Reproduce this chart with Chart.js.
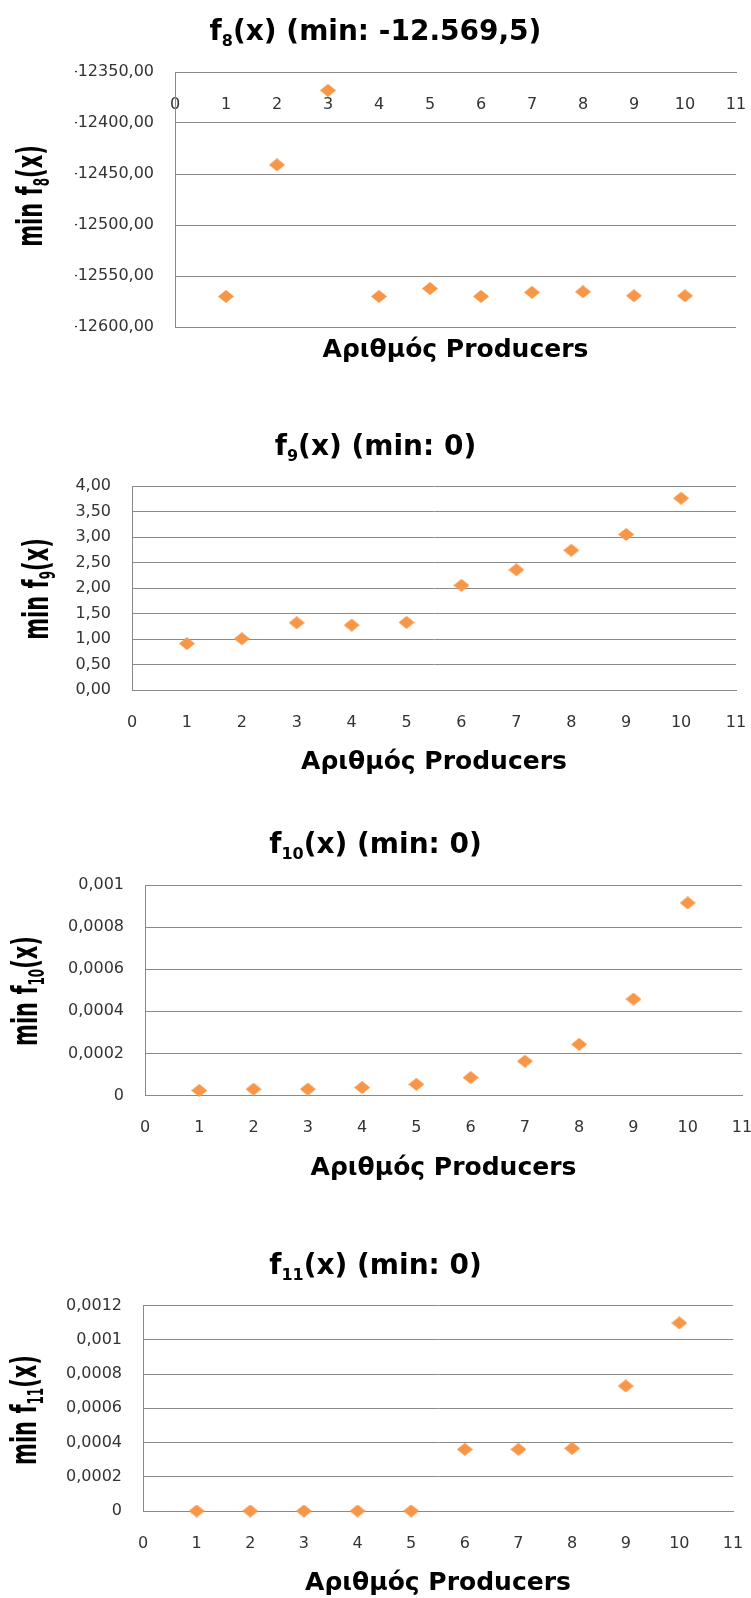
<!DOCTYPE html>
<html>
<head>
<meta charset="utf-8">
<script src="https://cdn.jsdelivr.net/npm/chart.js@4.4.1/dist/chart.umd.min.js"></script>
<style>
  html, body { margin: 0; padding: 0; background: #fff; }
  body { width: 751px; height: 1598px; position: relative; overflow: hidden; }
  .box { position: absolute; left: 0; width: 751px; }
</style>
</head>
<body>
<div class="box" style="top:0;height:410px"><canvas id="c8"></canvas></div>
<div class="box" style="top:410px;height:400px"><canvas id="c9"></canvas></div>
<div class="box" style="top:810px;height:405px"><canvas id="c10"></canvas></div>
<div class="box" style="top:1215px;height:383px"><canvas id="c11"></canvas></div>
<script>
// values
const producers = [1, 2, 3, 4, 5, 6, 7, 8, 9, 10];
const f8Min = [-12570, -12441, -12368, -12570, -12562.3, -12570, -12566, -12565.5, -12569.4, -12569.4];
const f9Min = [0.91, 1.006, 1.318, 1.273, 1.325, 2.052, 2.357, 2.74, 3.05, 3.76];
const f10Min = [0.000024, 0.00003, 0.00003, 0.000038, 0.000053, 0.000085, 0.000163, 0.000243, 0.000458, 0.000915];
const f11Min = [0, 0, 0, 0, 0, 0.00036, 0.00036, 0.000366, 0.00073, 0.001098];

const xTickLabels = ['0', '1', '2', '3', '4', '5', '6', '7', '8', '9', '10', '11'];
const f8TickLabels = ['-12600,00', '-12550,00', '-12500,00', '-12450,00', '-12400,00', '-12350,00'];
const f9TickLabels = ['0,00', '0,50', '1,00', '1,50', '2,00', '2,50', '3,00', '3,50', '4,00'];
const f10TickLabels = ['0', '0,0002', '0,0004', '0,0006', '0,0008', '0,001'];
const f11TickLabels = ['0', '0,0002', '0,0004', '0,0006', '0,0008', '0,001', '0,0012'];

const ORANGE = '#F79646';
const GRID = '#8a8a8a';
const TICK_COLOR = '#333333';
const Y_AXIS_W = 100;
const X_AXIS_H = 40;

function makeDiamond() {
  const c = document.createElement('canvas');
  c.width = 16;
  c.height = 13;
  const g = c.getContext('2d');
  g.fillStyle = ORANGE;
  g.beginPath();
  g.moveTo(8, 0);
  g.lineTo(16, 6.5);
  g.lineTo(8, 13);
  g.lineTo(0, 6.5);
  g.closePath();
  g.fill();
  return c;
}
const diamond = makeDiamond();

// titles with subscripts, drawn on the canvas
function drawRich(ctx, item) {
  const size = item.size;
  const subSize = Math.round(size * 0.58);
  ctx.save();
  let total = 0;
  const parts = item.parts.map(p => {
    const s = p.sub ? subSize : size;
    ctx.font = 'bold ' + s + 'px "DejaVu Sans"';
    const w = ctx.measureText(p.text).width;
    total += w;
    return { text: p.text, sub: p.sub, s: s, w: w };
  });
  ctx.translate(item.x, item.y);
  if (item.rotate) {
    ctx.rotate(-Math.PI / 2);
  }
  ctx.scale(1, item.stretch || 1);
  ctx.fillStyle = '#000';
  ctx.textAlign = 'left';
  ctx.textBaseline = 'alphabetic';
  let x = -total / 2;
  parts.forEach(p => {
    ctx.font = 'bold ' + p.s + 'px "DejaVu Sans"';
    ctx.fillText(p.text, x, p.sub ? size * 0.2 : 0);
    x += p.w;
  });
  ctx.restore();
}

const richText = {
  id: 'richText',
  afterDraw(chart, args, opts) {
    (opts.items || []).forEach(item => drawRich(chart.ctx, item));
  }
};

function titleParts(sub, rest) {
  return [{ text: 'f' }, { text: sub, sub: true }, { text: rest }];
}

function createScatter(cfg) {
  const top = cfg.sectionTop;
  const plot = cfg.plot;
  const xOnTop = cfg.xAxisAt !== undefined;
  const padding = {
    left: plot.left - Y_AXIS_W,
    right: 751 - plot.right,
    top: plot.top - top,
    bottom: cfg.sectionHeight - (plot.bottom - top) - (xOnTop ? 0 : X_AXIS_H)
  };
  const tickFont = { family: 'DejaVu Sans', size: 16 };

  const items = [
    { parts: titleParts(cfg.sub, cfg.title), size: 28, x: 375.5, y: cfg.titleY - top },
    { parts: [{ text: 'Αριθμός Producers' }], size: 25, x: (plot.left + plot.right) / 2, y: cfg.xTitleY - top },
    { parts: [{ text: 'min f' }, { text: cfg.sub, sub: true }, { text: '(x)' }], size: 21, rotate: true,
      stretch: 1.7, x: cfg.yTitleX, y: cfg.yTitleY - top }
  ];

  return new Chart(document.getElementById(cfg.id), {
    type: 'scatter',
    data: {
      datasets: [{
        data: producers.map((p, i) => ({ x: p, y: cfg.values[i] })),
        pointStyle: diamond,
        pointRadius: 8,
        showLine: false,
        clip: false
      }]
    },
    options: {
      responsive: true,
      maintainAspectRatio: false,
      animation: false,
      events: [],
      layout: { padding: padding },
      plugins: {
        legend: { display: false },
        tooltip: { enabled: false },
        richText: { items: items }
      },
      scales: {
        x: {
          type: 'linear',
          position: xOnTop ? { y: cfg.xAxisAt } : 'bottom',
          min: 0,
          max: 11,
          grid: { display: false },
          border: { display: true, color: GRID, width: 1 },
          ticks: {
            stepSize: 1,
            autoSkip: false,
            maxRotation: 0,
            padding: 15,
            color: TICK_COLOR,
            font: tickFont,
            callback: (v, i) => xTickLabels[i]
          },
          afterFit: s => {
            s.height = X_AXIS_H;
            s.paddingLeft = 0;
            s.paddingRight = 0;
          }
        },
        y: {
          type: 'linear',
          min: cfg.yMin,
          max: cfg.yMax,
          grid: { color: GRID, lineWidth: 1, drawTicks: false },
          border: { display: true, color: GRID, width: 1 },
          ticks: {
            stepSize: cfg.yStep,
            autoSkip: false,
            padding: 21,
            color: TICK_COLOR,
            font: tickFont,
            callback: (v, i) => cfg.yLabels[i]
          },
          afterFit: s => {
            s.width = Y_AXIS_W;
            s.paddingTop = 0;
            s.paddingBottom = 0;
          }
        }
      }
    },
    plugins: [richText]
  });
}

createScatter({
  id: 'c8', sectionTop: 0, sectionHeight: 410,
  plot: { left: 175, right: 736, top: 72, bottom: 327 },
  values: f8Min, yMin: -12600, yMax: -12350, yStep: 50, yLabels: f8TickLabels,
  xAxisAt: -12350,
  sub: '8', title: '(x) (min: -12.569,5)',
  titleY: 40, xTitleY: 357, yTitleX: 42, yTitleY: 196
});

createScatter({
  id: 'c9', sectionTop: 410, sectionHeight: 400,
  plot: { left: 132, right: 736, top: 486, bottom: 690 },
  values: f9Min, yMin: 0, yMax: 4, yStep: 0.5, yLabels: f9TickLabels,
  sub: '9', title: '(x) (min: 0)',
  titleY: 455, xTitleY: 769, yTitleX: 48, yTitleY: 589
});

createScatter({
  id: 'c10', sectionTop: 810, sectionHeight: 405,
  plot: { left: 145, right: 742, top: 885, bottom: 1095.5 },
  values: f10Min, yMin: 0, yMax: 0.001, yStep: 0.0002, yLabels: f10TickLabels,
  sub: '10', title: '(x) (min: 0)',
  titleY: 853, xTitleY: 1175, yTitleX: 37, yTitleY: 991
});

createScatter({
  id: 'c11', sectionTop: 1215, sectionHeight: 383,
  plot: { left: 143, right: 733, top: 1305.5, bottom: 1511 },
  values: f11Min, yMin: 0, yMax: 0.0012, yStep: 0.0002, yLabels: f11TickLabels,
  sub: '11', title: '(x) (min: 0)',
  titleY: 1274, xTitleY: 1590, yTitleX: 36, yTitleY: 1410
});
</script>
</body>
</html>
